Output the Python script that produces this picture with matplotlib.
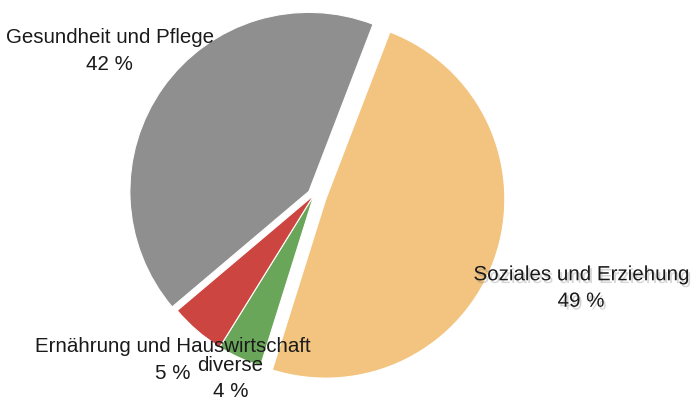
import numpy as np
import matplotlib
matplotlib.use("Agg")
import matplotlib.pyplot as plt
import matplotlib.patheffects as pe

# Data (clockwise from the top-right)
categories = ["Soziales und Erziehung", "diverse", "Ernährung und Hauswirtschaft", "Gesundheit und Pflege"]
values = [49, 4, 5, 42]
pct_labels = ["49 %", "4 %", "5 %", "42 %"]

# Styles
colors = ["#F2C47F", "#6AA65A", "#CC4540", "#8E8F8E"]
explode = [0.07, 0.0, 0.0, 0.035]
label_radius = [1.58, 1.12, 1.21, 1.40]

W, H = 691, 406
R_PX = 179.0
CX, CY = 314.0, 196.0

fig = plt.figure(figsize=(W / 100, H / 100), dpi=100)
ax = fig.add_axes([0, 0, 1, 1])

wedges, _ = ax.pie(values, colors=colors, explode=explode, startangle=69,
                   counterclock=False, radius=1.0,
                   wedgeprops=dict(edgecolor="white", linewidth=0.8))

ax.set_xlim(-CX / R_PX, (W - CX) / R_PX)
ax.set_ylim(-(H - CY) / R_PX, CY / R_PX)
ax.set_aspect("auto")
ax.axis("off")

for i, w in enumerate(wedges):
    mid = np.deg2rad((w.theta1 + w.theta2) / 2)
    r = label_radius[i]
    x, y = r * np.cos(mid), r * np.sin(mid)
    effects = None
    if i == 0:
        effects = [pe.SimplePatchShadow(offset=(1.5, -2), shadow_rgbFace="#777777", alpha=0.3),
                   pe.Normal()]
    ax.text(x, y, f"{categories[i]}\n{pct_labels[i]}", ha="center", va="center",
            fontsize=14.8, family=["Liberation Sans", "DejaVu Sans"], color="#1a1a1a",
            linespacing=1.5, path_effects=effects)

fig.savefig("out.png", dpi=100)
